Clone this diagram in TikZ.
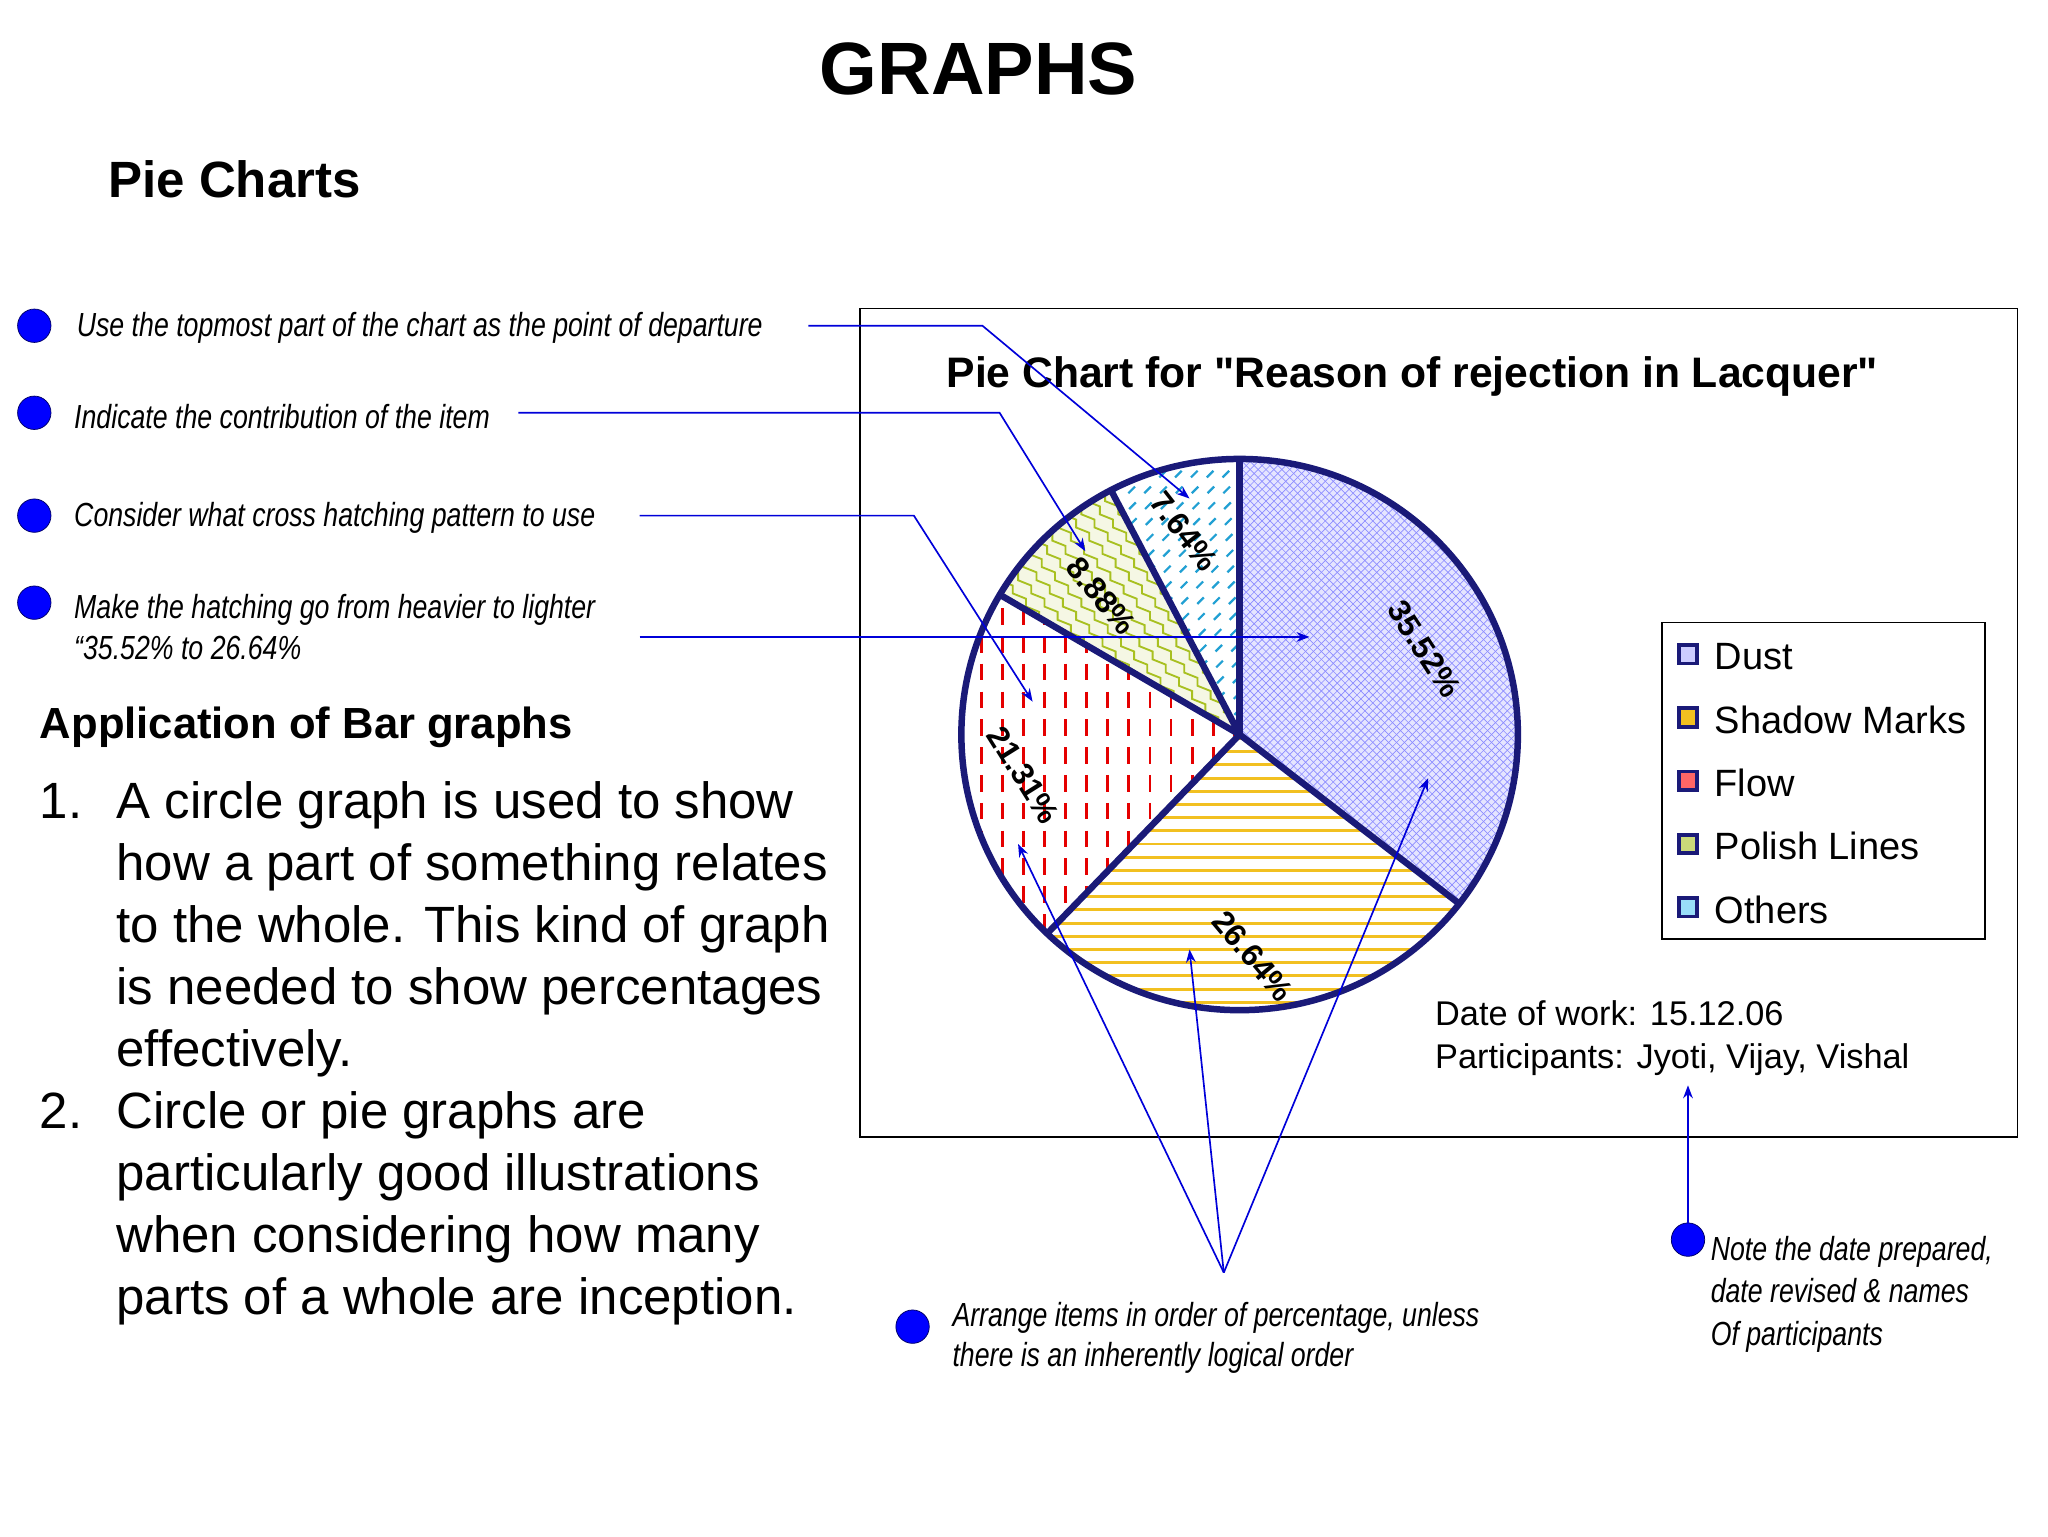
\documentclass[tikz,border=0pt]{standalone}
\usepackage{fontspec}
\usetikzlibrary{arrows.meta}
\setmainfont{Liberation Sans}
\newfontfamily\narrowit[FakeStretch=0.8]{Liberation Sans Italic}
\begin{document}
\begin{tikzpicture}[x=0.025cm,y=-0.025cm,
  arr/.style={blue!85!black,line width=0.9pt,-{Stealth[length=7pt]}},
  dot/.style={circle,fill=blue,draw=blue!40!black,minimum size=18pt,inner sep=0pt},
  note/.style={font=\narrowit\fontsize{18}{22}\selectfont,anchor=base west,inner sep=0pt,align=left},
  lst/.style={font=\fontsize{27.5}{33}\selectfont,anchor=base west,inner sep=0pt},
  pct/.style={font=\bfseries\fontsize{17}{20}\selectfont,inner sep=0pt},
  leg/.style={font=\fontsize{20.5}{24}\selectfont,anchor=base west,inner sep=0pt},
  mk/.style={draw=navy,line width=2pt,minimum size=10pt,inner sep=0pt}]
\definecolor{navy}{HTML}{1A1A78}
\definecolor{ylw}{HTML}{F2C020}
\definecolor{grn}{HTML}{A8C020}
\useasboundingbox (0,0) rectangle (1553,1165);
\fill[white] (0,0) rectangle (1553,1165);
\node[font=\bfseries\fontsize{40}{48}\selectfont,anchor=base,inner sep=0pt] (title) at (742,72) {GRAPHS};
\node[font=\bfseries\fontsize{27.5}{32}\selectfont,anchor=base west,inner sep=0pt] (pc) at (82,150) {Pie Charts};
% bullets
\node[dot] (b1) at (26,247) {};
\node[dot] (b2) at (26,313) {};
\node[dot] (b3) at (26,391) {};
\node[dot] (b4) at (26,457) {};
\node[note] (t1) at (58,255) {Use the topmost part of the chart as the point of departure};
\node[note] (t2) at (56,325) {Indicate the contribution of the item};
\node[note] (t3) at (56,399) {Consider what cross hatching pattern to use};
\node[note] (t4) at (56,469) {Make the hatching go from heavier to lighter};
\node[note] (t4b) at (56,500) {“35.52\% to 26.64\%};
\node[font=\bfseries\fontsize{23.5}{28}\selectfont,anchor=base west,inner sep=0pt] (app) at (30,560) {Application of Bar graphs};
\node[lst] (n1) at (30,621) {1.};
\node[lst] (l1) at (88,621) {A circle graph is used to show};
\node[lst] (l2) at (88,668) {how a part of something relates};
\node[lst] (l3) at (88,715) {to the whole. This kind of graph};
\node[lst] (l4) at (88,762) {is needed to show percentages};
\node[lst] (l5) at (88,809) {effectively.};
\node[lst] (n2) at (30,856) {2.};
\node[lst] (l6) at (88,856) {Circle or pie graphs are};
\node[lst] (l7) at (88,903) {particularly good illustrations};
\node[lst] (l8) at (88,950) {when considering how many};
\node[lst] (l9) at (88,997) {parts of a whole are inception.};
% chart frame
\draw[line width=0.8pt] (652,234) rectangle (1530,862);
\node[font=\bfseries\fontsize{23}{28}\selectfont,anchor=base,inner sep=0pt] (ct) at (1071,294) {Pie Chart for \textquotedbl Reason of rejection in Lacquer\textquotedbl};
% pie slices
\newcommand\sect[2]{(940,557) -- +(#1:211 and 209) arc[start angle=#1,end angle=#2,x radius=211,y radius=209] -- cycle}
\begin{scope}
\clip \sect{-90}{37.87};
\fill[blue!10] (720,340) rectangle (1160,780);
\foreach \i in {0,6,...,900}{\draw[blue!45,line width=0.35pt] (700+\i,340) -- ++(-440,440); \draw[blue!45,line width=0.35pt] (260+\i,340) -- ++(440,440);}
\end{scope}
\begin{scope}
\clip \sect{37.87}{133.77};
\foreach \y in {560,570,...,780}{\draw[ylw,line width=1.6pt] (720,\y) -- (1160,\y);}
\end{scope}
\begin{scope}
\clip \sect{133.77}{210.49};
\foreach \x in {728,744,...,940}{\draw[red!90!black,line width=1.5pt,dash pattern=on 9pt off 6pt] (\x,440) -- (\x,780);}
\end{scope}
\begin{scope}
\clip \sect{210.49}{242.46};
\fill[grn!12] (720,340) rectangle (960,560);
\foreach \i in {0,14,...,420}{\draw[grn,line width=1pt] (560+\i,340) \foreach \k in {1,...,22}{ -- ++(10,4) -- ++(0,6)};}
\end{scope}
\begin{scope}
\clip \sect{242.46}{270};
\foreach \y in {350,362,...,560}{\foreach \x in {830,842,...,950}{\draw[cyan!70!teal,line width=1.2pt] (\x+\y/20-17,\y) -- ++(5,-5);}}
\end{scope}
\foreach \a in {-90,37.87,133.77,210.49,242.46}{\draw[navy,line width=3.5pt] (940,557) -- +(\a:211 and 209);}
\draw[navy,line width=3.5pt] (940,557) ellipse[x radius=211,y radius=209];
% percentages
\node[pct,rotate=-57] (p1) at (1080,492) {35.52\%};
\node[pct,rotate=-50] (p2) at (950,725) {26.64\%};
\node[pct,rotate=-58] (p3) at (776,588) {21.31\%};
\node[pct,rotate=-50] (p4) at (835,452) {8.88\%};
\node[pct,rotate=-52] (p5) at (898,403) {7.64\%};
% legend
\draw[line width=1pt] (1260,472) rectangle (1505,712);
\node[mk,fill=blue!20] (m1) at (1280,496) {};
\node[mk,fill=ylw] (m2) at (1280,544) {};
\node[mk,fill=red!60] (m3) at (1280,592) {};
\node[mk,fill=grn!60] (m4) at (1280,640) {};
\node[mk,fill=cyan!40] (m5) at (1280,688) {};
\node[leg] (g1) at (1300,508) {Dust};
\node[leg] (g2) at (1300,556) {Shadow Marks};
\node[leg] (g3) at (1300,604) {Flow};
\node[leg] (g4) at (1300,652) {Polish Lines};
\node[leg] (g5) at (1300,700) {Others};
\node[font=\fontsize{18.5}{23}\selectfont,anchor=base west,inner sep=0pt] (d1) at (1088,778) {Date of work: 15.12.06};
\node[font=\fontsize{18.5}{23}\selectfont,anchor=base west,inner sep=0pt] (d2) at (1088,810) {Participants: Jyoti, Vijay, Vishal};
% bottom notes
\node[dot] (b5) at (692,1006) {};
\node[note] (t5) at (722,1006) {Arrange items in order of percentage, unless};
\node[note] (t5b) at (722,1036) {there is an inherently logical order};
\node[dot] (b6) at (1280,940) {};
\node[note] (t6) at (1297,956) {Note the date prepared,};
\node[note] (t6b) at (1297,988) {date revised \& names};
\node[note] (t6c) at (1297,1020) {Of participants};
% connectors
\coordinate (s1) at (613,247); \coordinate (s2) at (393,313);
\coordinate (s3) at (485,391); \coordinate (s4) at (485,483);
\coordinate (e1) at (902,378); \coordinate (e2) at (823,418); \coordinate (e3) at (783,532);
\coordinate (e4) at (993,483); \coordinate (f) at (928,965);
\coordinate (e5) at (772,640); \coordinate (e6) at (902,720); \coordinate (e7) at (1083,590);
\coordinate (e8) at (1280,823);
\draw[arr] (s1) -- (745,247) -- (e1);
\draw[arr] (s2) -- (758,313) -- (e2);
\draw[arr] (s3) -- (693,391) -- (e3);
\draw[arr] (s4) -- (e4);
\draw[arr] (f) -- (e5);
\draw[arr] (f) -- (e6);
\draw[arr] (f) -- (e7);
\draw[arr] (b6.north) -- (e8);
\end{tikzpicture}
\end{document}
